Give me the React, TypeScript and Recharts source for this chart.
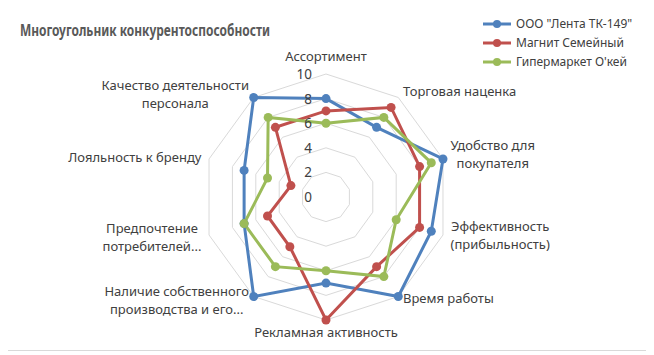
import React from "react";
import {
  RadarChart,
  Radar,
  PolarGrid,
  PolarAngleAxis,
  PolarRadiusAxis,
  Legend,
} from "recharts";

// Многоугольник конкурентоспособности — лепестковая диаграмма

const categories = [
  "Ассортимент",
  "Торговая наценка",
  "Удобство для\nпокупателя",
  "Эффективность\n(прибыльность)",
  "Время работы",
  "Рекламная активность",
  "Наличие собственного\nпроизводства и его...",
  "Предпочтение\nпотребителей...",
  "Лояльность к бренду",
  "Качество деятельности\nперсонала",
];

const lenta = [8, 7, 10, 9, 10, 7, 10, 7, 7, 10];
const magnit = [7, 9, 8, 8, 7, 10, 5, 5, 3, 7];
const okey = [6, 8, 9, 6, 8, 6, 7, 7, 5, 8];

const radiusTicks = [0, 2, 4, 6, 8, 10];

const series = [
  { key: "lenta", name: 'ООО "Лента ТК-149"', color: "#4F81BD" },
  { key: "magnit", name: "Магнит Семейный", color: "#C0504D" },
  { key: "okey", name: "Гипермаркет О'кей", color: "#9BBB59" },
];

const data = categories.map((cat, i) => ({
  cat,
  lenta: lenta[i],
  magnit: magnit[i],
  okey: okey[i],
}));

const FONT = "'Noto Sans', sans-serif";
const TEXT = "#404040";
const LABEL_SIZE = 13;

// небольшие вертикальные поправки подписей (как в Excel)
const labelNudge = [-10, 0, -3, -2, -5, 4, -3, 0, 0, 3];

let ctx: CanvasRenderingContext2D | null = null;
function textWidth(s: string) {
  if (!ctx && typeof document !== "undefined") {
    ctx = document.createElement("canvas").getContext("2d");
  }
  if (!ctx) return s.length * 7;
  ctx.font = `${LABEL_SIZE}px "Noto Sans"`;
  return ctx.measureText(s).width;
}

function AngleTick(props: any) {
  const { x, y, textAnchor, payload, index } = props;
  const lines = String(payload.value).split("\n");
  const lh = 18;
  const y0 = y + (labelNudge[index] || 0) - ((lines.length - 1) * lh) / 2;
  let tx = x;
  let anchor = textAnchor;
  if (lines.length > 1) {
    const w = Math.max(...lines.map(textWidth));
    if (textAnchor === "start") tx = x + w / 2;
    else if (textAnchor === "end") tx = x - w / 2;
    anchor = "middle";
  }
  return (
    <text
      x={tx}
      y={y0}
      textAnchor={anchor}
      fill={TEXT}
      fontSize={LABEL_SIZE}
      fontFamily={FONT}
      dominantBaseline="central"
    >
      {lines.map((l, i) => (
        <tspan key={i} x={tx} y={y0 + i * lh}>
          {l}
        </tspan>
      ))}
    </text>
  );
}

function RadiusTick(props: any) {
  const { x, y, payload } = props;
  return (
    <text
      x={x - 14}
      y={y}
      textAnchor="end"
      dominantBaseline="central"
      fill={TEXT}
      fontSize={13.5}
      fontFamily={FONT}
    >
      {payload.value}
    </text>
  );
}

function LegendBox() {
  return (
    <div style={{ fontFamily: FONT, fontSize: 12, color: TEXT }}>
      {series.map((s) => (
        <div
          key={s.key}
          style={{ display: "flex", alignItems: "center", height: 19 }}
        >
          <svg width={30} height={10} style={{ marginRight: 3 }}>
            <line x1={0} y1={5} x2={28} y2={5} stroke={s.color} strokeWidth={3} />
            <circle cx={14} cy={5} r={4} fill={s.color} />
          </svg>
          <span>{s.name}</span>
        </div>
      ))}
    </div>
  );
}

function makeDot(color: string) {
  return (p: any) => (
    <circle key={`d-${p.index}`} cx={p.cx} cy={p.cy} r={4.5} fill={color} />
  );
}

export default function App() {
  return (
    <div
      style={{
        position: "relative",
        width: 641,
        height: 344,
        margin: "-3px 0 0 -3px",
        border: "1px solid #d9d9d9",
        background: "#fff",
      }}
    >
      <svg
        width={420}
        height={40}
        style={{ position: "absolute", left: 0, top: 5, overflow: "visible" }}
      >
        <text
          x={14}
          y={19}
          dominantBaseline="central"
          fontFamily={FONT}
          fontWeight={700}
          fontSize={16}
          fill="#595959"
          textLength={250}
          lengthAdjust="spacingAndGlyphs"
        >
          Многоугольник конкурентоспособности
        </text>
      </svg>
      <RadarChart
        width={641}
        height={344}
        data={data}
        cx={320}
        cy={191}
        outerRadius={123}
        startAngle={90}
        endAngle={-270}
      >
        <PolarGrid gridType="polygon" radialLines={false} stroke="#d9d9d9" />
        <PolarAngleAxis
          dataKey="cat"
          tick={<AngleTick />}
          tickLine={false}
          axisLine={false}
        />
        <PolarRadiusAxis
          angle={90}
          domain={[0, 10]}
          ticks={radiusTicks}
          tick={<RadiusTick />}
          axisLine={false}
          tickLine={false}
        />
        {series.map((s) => (
          <Radar
            key={s.key}
            name={s.name}
            dataKey={s.key}
            stroke={s.color}
            strokeWidth={3}
            fill="none"
            fillOpacity={0}
            dot={makeDot(s.color)}
            isAnimationActive={false}
          />
        ))}
        <Legend
          layout="vertical"
          verticalAlign="top"
          align="right"
          wrapperStyle={{ top: 8, left: 477, width: 170 }}
          content={() => <LegendBox />}
        />
      </RadarChart>
    </div>
  );
}
